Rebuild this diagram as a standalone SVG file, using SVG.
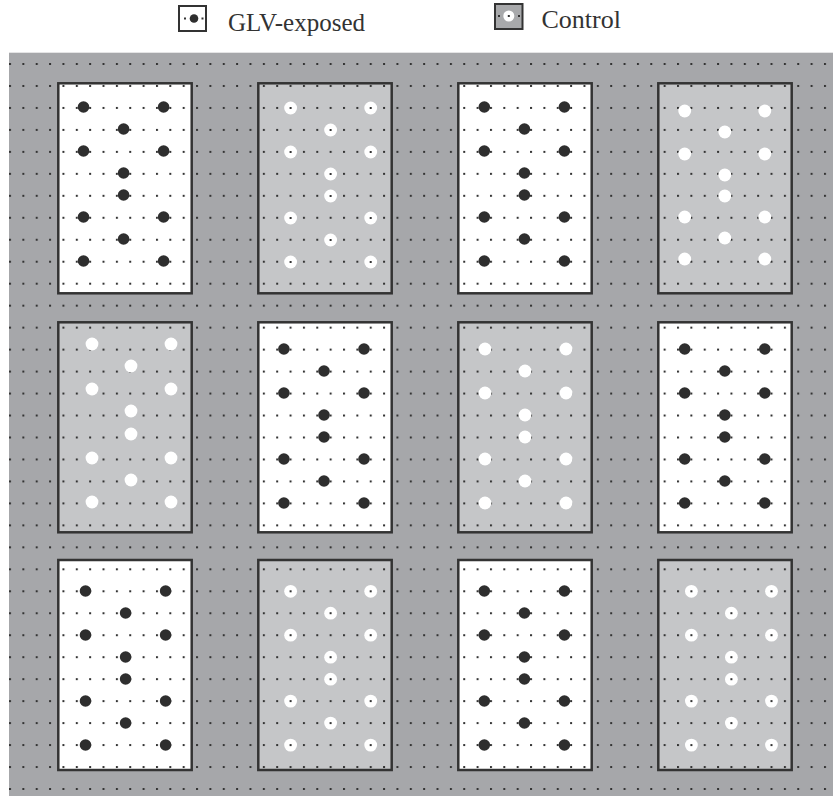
<svg xmlns="http://www.w3.org/2000/svg" xmlns:xlink="http://www.w3.org/1999/xlink" width="833" height="796" viewBox="0 0 833 796">
<style>
.lbl{font-family:"Liberation Serif","Times New Roman",serif;font-size:25px;fill:#333}
.pw{fill:#ffffff}
.pc{fill:#c5c6c8}
.bd{fill:none;stroke:#333;stroke-width:2.5}
.gr{fill:url(#grid)}
</style>
<defs>
<pattern id="grid" patternUnits="userSpaceOnUse" x="9" y="63" width="13.36" height="21.97">
<rect x="0" y="0" width="2" height="2" fill="#333"/>
</pattern>
<circle id="b" r="5.8" fill="#2e2e2e"/>
<circle id="w" r="6.4" fill="#ffffff"/>
<rect id="d" x="-1" y="-1" width="2" height="2" fill="#333"/>
<g id="wd"><use xlink:href="#w"/><use xlink:href="#d"/></g>
</defs>
<g id="legend">
<g id="legend-glv">
<rect x="179" y="6" width="27" height="25" fill="#fff" stroke="#333" stroke-width="2"/>
<rect x="184" y="17.5" width="2" height="2" fill="#333"/>
<rect x="201.5" y="17.5" width="2" height="2" fill="#333"/>
<circle cx="194" cy="18.5" r="4.3" fill="#2e2e2e"/>
<text class="lbl" x="228" y="31">GLV-exposed</text>
</g>
<g id="legend-control">
<rect x="495" y="4" width="27.5" height="25" fill="#a8a9ab" stroke="#333" stroke-width="2"/>
<rect x="498" y="15" width="2" height="2" fill="#333"/>
<rect x="518" y="15" width="2" height="2" fill="#333"/>
<circle cx="508.8" cy="16" r="5.5" fill="#fff"/>
<rect x="507.8" y="15" width="2" height="2" fill="#333"/>
<text class="lbl" x="541.5" y="27.5" style="font-size:26px">Control</text>
</g>
</g>
<g id="background">
<rect x="9" y="52.7" width="824" height="743.3" fill="#a6a7aa"/>
<rect x="9" y="52.7" width="824" height="743.3" class="gr"/>
</g>
<!-- Row 1 -->
<g id="p11">
<rect class="pw" x="58.3" y="83.3" width="133.4" height="210"/><rect class="gr" x="58.3" y="83.3" width="133.4" height="210"/><rect class="bd" x="58.3" y="83.3" width="133.4" height="210"/>
<use xlink:href="#b" x="83.5" y="107"/><use xlink:href="#b" x="163.6" y="107"/>
<use xlink:href="#b" x="123.6" y="129"/>
<use xlink:href="#b" x="83.5" y="151"/><use xlink:href="#b" x="163.6" y="151"/>
<use xlink:href="#b" x="123.6" y="173"/>
<use xlink:href="#b" x="123.6" y="195"/>
<use xlink:href="#b" x="83.5" y="217"/><use xlink:href="#b" x="163.6" y="217"/>
<use xlink:href="#b" x="123.6" y="239"/>
<use xlink:href="#b" x="83.5" y="261"/><use xlink:href="#b" x="163.6" y="261"/>
</g>
<g id="p12">
<rect class="pc" x="258.3" y="83.3" width="133.4" height="210"/><rect class="gr" x="258.3" y="83.3" width="133.4" height="210"/><rect class="bd" x="258.3" y="83.3" width="133.4" height="210"/>
<use xlink:href="#wd" x="290.6" y="108"/><use xlink:href="#wd" x="370.7" y="108"/>
<use xlink:href="#wd" x="330.6" y="130"/>
<use xlink:href="#wd" x="290.6" y="152"/><use xlink:href="#wd" x="370.7" y="152"/>
<use xlink:href="#wd" x="330.6" y="174"/>
<use xlink:href="#wd" x="330.6" y="196"/>
<use xlink:href="#wd" x="290.6" y="218"/><use xlink:href="#wd" x="370.7" y="218"/>
<use xlink:href="#wd" x="330.6" y="240"/>
<use xlink:href="#wd" x="290.6" y="262"/><use xlink:href="#wd" x="370.7" y="262"/>
</g>
<g id="p13">
<rect class="pw" x="458.3" y="83.3" width="133.4" height="210"/><rect class="gr" x="458.3" y="83.3" width="133.4" height="210"/><rect class="bd" x="458.3" y="83.3" width="133.4" height="210"/>
<use xlink:href="#b" x="484.3" y="107"/><use xlink:href="#b" x="564.4" y="107"/>
<use xlink:href="#b" x="524.4" y="129"/>
<use xlink:href="#b" x="484.3" y="151"/><use xlink:href="#b" x="564.4" y="151"/>
<use xlink:href="#b" x="524.4" y="173"/>
<use xlink:href="#b" x="524.4" y="195"/>
<use xlink:href="#b" x="484.3" y="217"/><use xlink:href="#b" x="564.4" y="217"/>
<use xlink:href="#b" x="524.4" y="239"/>
<use xlink:href="#b" x="484.3" y="261"/><use xlink:href="#b" x="564.4" y="261"/>
</g>
<g id="p14">
<rect class="pc" x="658.3" y="83.3" width="133.4" height="210"/><rect class="gr" x="658.3" y="83.3" width="133.4" height="210"/><rect class="bd" x="658.3" y="83.3" width="133.4" height="210"/>
<use xlink:href="#w" x="684.7" y="111"/><use xlink:href="#w" x="764.8" y="111"/>
<use xlink:href="#w" x="724.8" y="132"/>
<use xlink:href="#w" x="684.7" y="154"/><use xlink:href="#w" x="764.8" y="154"/>
<use xlink:href="#w" x="724.8" y="175"/>
<use xlink:href="#w" x="724.8" y="196"/>
<use xlink:href="#w" x="684.7" y="217"/><use xlink:href="#w" x="764.8" y="217"/>
<use xlink:href="#w" x="724.8" y="238"/>
<use xlink:href="#w" x="684.7" y="259"/><use xlink:href="#w" x="764.8" y="259"/>
</g>
<!-- Row 2 -->
<g id="p21">
<rect class="pc" x="58.3" y="322.3" width="133.4" height="210"/><rect class="gr" x="58.3" y="322.3" width="133.4" height="210"/><rect class="bd" x="58.3" y="322.3" width="133.4" height="210"/>
<use xlink:href="#w" x="92" y="344"/><use xlink:href="#w" x="171" y="344"/>
<use xlink:href="#w" x="131" y="366"/>
<use xlink:href="#w" x="92" y="389"/><use xlink:href="#w" x="171" y="389"/>
<use xlink:href="#w" x="131" y="411"/>
<use xlink:href="#w" x="131" y="434"/>
<use xlink:href="#w" x="92" y="458"/><use xlink:href="#w" x="171" y="458"/>
<use xlink:href="#w" x="131" y="480"/>
<use xlink:href="#w" x="92" y="502"/><use xlink:href="#w" x="171" y="502"/>
</g>
<g id="p22">
<rect class="pw" x="258.3" y="322.3" width="133.4" height="210"/><rect class="gr" x="258.3" y="322.3" width="133.4" height="210"/><rect class="bd" x="258.3" y="322.3" width="133.4" height="210"/>
<use xlink:href="#b" x="283.9" y="349"/><use xlink:href="#b" x="364" y="349"/>
<use xlink:href="#b" x="324" y="371"/>
<use xlink:href="#b" x="283.9" y="393"/><use xlink:href="#b" x="364" y="393"/>
<use xlink:href="#b" x="324" y="415"/>
<use xlink:href="#b" x="324" y="437"/>
<use xlink:href="#b" x="283.9" y="459"/><use xlink:href="#b" x="364" y="459"/>
<use xlink:href="#b" x="324" y="481"/>
<use xlink:href="#b" x="283.9" y="503"/><use xlink:href="#b" x="364" y="503"/>
</g>
<g id="p23">
<rect class="pc" x="458.3" y="322.3" width="133.4" height="210"/><rect class="gr" x="458.3" y="322.3" width="133.4" height="210"/><rect class="bd" x="458.3" y="322.3" width="133.4" height="210"/>
<use xlink:href="#w" x="485" y="349"/><use xlink:href="#w" x="566" y="349"/>
<use xlink:href="#w" x="525" y="371"/>
<use xlink:href="#w" x="485" y="393"/><use xlink:href="#w" x="566" y="393"/>
<use xlink:href="#w" x="525" y="415"/>
<use xlink:href="#w" x="525" y="437"/>
<use xlink:href="#w" x="485" y="459"/><use xlink:href="#w" x="566" y="459"/>
<use xlink:href="#w" x="525" y="481"/>
<use xlink:href="#w" x="485" y="503"/><use xlink:href="#w" x="566" y="503"/>
</g>
<g id="p24">
<rect class="pw" x="658.3" y="322.3" width="133.4" height="210"/><rect class="gr" x="658.3" y="322.3" width="133.4" height="210"/><rect class="bd" x="658.3" y="322.3" width="133.4" height="210"/>
<use xlink:href="#b" x="684.7" y="349"/><use xlink:href="#b" x="764.8" y="349"/>
<use xlink:href="#b" x="724.8" y="371"/>
<use xlink:href="#b" x="684.7" y="393"/><use xlink:href="#b" x="764.8" y="393"/>
<use xlink:href="#b" x="724.8" y="415"/>
<use xlink:href="#b" x="724.8" y="437"/>
<use xlink:href="#b" x="684.7" y="459"/><use xlink:href="#b" x="764.8" y="459"/>
<use xlink:href="#b" x="724.8" y="481"/>
<use xlink:href="#b" x="684.7" y="503"/><use xlink:href="#b" x="764.8" y="503"/>
</g>
<!-- Row 3 -->
<g id="p31">
<rect class="pw" x="58.3" y="560" width="133.4" height="210"/><rect class="gr" x="58.3" y="560" width="133.4" height="210"/><rect class="bd" x="58.3" y="560" width="133.4" height="210"/>
<use xlink:href="#b" x="85.5" y="591"/><use xlink:href="#b" x="165.6" y="591"/>
<use xlink:href="#b" x="125.6" y="613"/>
<use xlink:href="#b" x="85.5" y="635"/><use xlink:href="#b" x="165.6" y="635"/>
<use xlink:href="#b" x="125.6" y="657"/>
<use xlink:href="#b" x="125.6" y="679"/>
<use xlink:href="#b" x="85.5" y="701"/><use xlink:href="#b" x="165.6" y="701"/>
<use xlink:href="#b" x="125.6" y="723"/>
<use xlink:href="#b" x="85.5" y="745"/><use xlink:href="#b" x="165.6" y="745"/>
</g>
<g id="p32">
<rect class="pc" x="258.3" y="560" width="133.4" height="210"/><rect class="gr" x="258.3" y="560" width="133.4" height="210"/><rect class="bd" x="258.3" y="560" width="133.4" height="210"/>
<use xlink:href="#wd" x="290.6" y="591.3"/><use xlink:href="#wd" x="370.7" y="591.3"/>
<use xlink:href="#wd" x="330.6" y="613.2"/>
<use xlink:href="#wd" x="290.6" y="635.2"/><use xlink:href="#wd" x="370.7" y="635.2"/>
<use xlink:href="#wd" x="330.6" y="657.2"/>
<use xlink:href="#wd" x="330.6" y="679.2"/>
<use xlink:href="#wd" x="290.6" y="701.1"/><use xlink:href="#wd" x="370.7" y="701.1"/>
<use xlink:href="#wd" x="330.6" y="723.1"/>
<use xlink:href="#wd" x="290.6" y="745.1"/><use xlink:href="#wd" x="370.7" y="745.1"/>
</g>
<g id="p33">
<rect class="pw" x="458.3" y="560" width="133.4" height="210"/><rect class="gr" x="458.3" y="560" width="133.4" height="210"/><rect class="bd" x="458.3" y="560" width="133.4" height="210"/>
<use xlink:href="#b" x="484.3" y="591"/><use xlink:href="#b" x="564.4" y="591"/>
<use xlink:href="#b" x="524.4" y="613"/>
<use xlink:href="#b" x="484.3" y="635"/><use xlink:href="#b" x="564.4" y="635"/>
<use xlink:href="#b" x="524.4" y="657"/>
<use xlink:href="#b" x="524.4" y="679"/>
<use xlink:href="#b" x="484.3" y="701"/><use xlink:href="#b" x="564.4" y="701"/>
<use xlink:href="#b" x="524.4" y="723"/>
<use xlink:href="#b" x="484.3" y="745"/><use xlink:href="#b" x="564.4" y="745"/>
</g>
<g id="p34">
<rect class="pc" x="658.3" y="560" width="133.4" height="210"/><rect class="gr" x="658.3" y="560" width="133.4" height="210"/><rect class="bd" x="658.3" y="560" width="133.4" height="210"/>
<use xlink:href="#wd" x="691.4" y="591.3"/><use xlink:href="#wd" x="771.5" y="591.3"/>
<use xlink:href="#wd" x="731.4" y="613.2"/>
<use xlink:href="#wd" x="691.4" y="635.2"/><use xlink:href="#wd" x="771.5" y="635.2"/>
<use xlink:href="#wd" x="731.4" y="657.2"/>
<use xlink:href="#wd" x="731.4" y="679.2"/>
<use xlink:href="#wd" x="691.4" y="701.1"/><use xlink:href="#wd" x="771.5" y="701.1"/>
<use xlink:href="#wd" x="731.4" y="723.1"/>
<use xlink:href="#wd" x="691.4" y="745.1"/><use xlink:href="#wd" x="771.5" y="745.1"/>
</g>
</svg>
